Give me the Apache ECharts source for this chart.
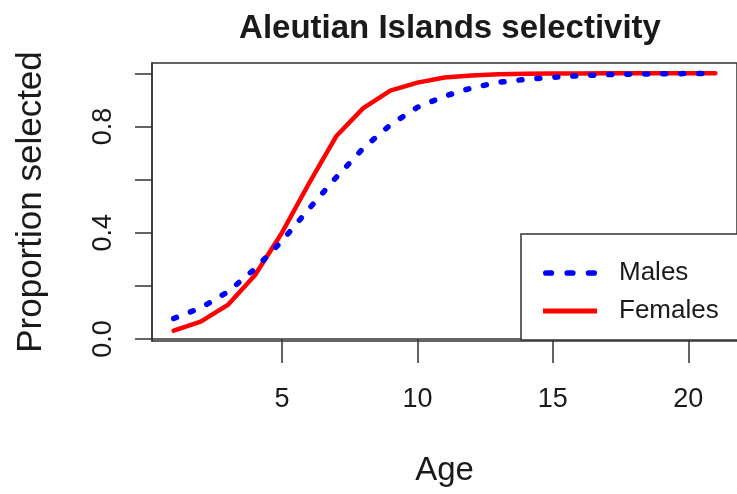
<!DOCTYPE html>
<html>
<head>
<meta charset="utf-8">
<title>Aleutian Islands selectivity</title>
<script src="https://cdn.jsdelivr.net/npm/echarts@6/dist/echarts.min.js"></script>
<style>
  html, body { margin: 0; padding: 0; background: #ffffff; }
  #chart { width: 737px; height: 494px; }
</style>
</head>
<body>
<div id="chart"></div>
<script>
// Selectivity-at-age by sex
const ages = [1, 2, 3, 4, 5, 6, 7, 8, 9, 10, 11, 12, 13, 14, 15, 16, 17, 18, 19, 20, 21];
const males = [0.077, 0.117, 0.177, 0.264, 0.369, 0.490, 0.608, 0.718, 0.806, 0.872, 0.914,
               0.945, 0.966, 0.977, 0.985, 0.991, 0.995, 0.997, 0.998, 0.999, 0.999];
const females = [0.031, 0.065, 0.128, 0.240, 0.400, 0.586, 0.763, 0.869, 0.935, 0.965, 0.984,
                 0.992, 0.996, 0.998, 0.999, 0.999, 1.000, 1.000, 1.000, 1.000, 1.000];

const xTicks = [5, 10, 15, 20];
const yTicks = [0, 0.2, 0.4, 0.6, 0.8, 1.0];
const yTickLabels = [0, 0.4, 0.8];

const seriesNames = ['Males', 'Females'];
const titleText = 'Aleutian Islands selectivity';
const xName = 'Age';
const yName = 'Proportion selected';

// axis ranges padded by 4% of the data span on each side
const xSpan = ages[ages.length - 1] - ages[0];
const xMin = ages[0] - 0.04 * xSpan;
const xMax = ages[ages.length - 1] + 0.04 * xSpan;
const allY = males.concat(females);
const yLo = Math.min.apply(null, allY), yHi = Math.max.apply(null, allY);
const ySpan = yHi - yLo;
const yMin = yLo - 0.04 * ySpan;
const yMax = yHi + 0.04 * ySpan;

const FONT = '"Liberation Sans", Arial, Helvetica, sans-serif';
const INK = '#1a1a1a';
const FRAME = '#333333';

// legend keys: a dotted stroke for males, a solid stroke for females
const dottedKey = 'path://M2,0h5a2,2 0 0 1 0,5h-5a2,2 0 0 1 0,-5z'
  + 'M21,0h5a2,2 0 0 1 0,5h-5a2,2 0 0 1 0,-5z'
  + 'M40,0h5a2,2 0 0 1 0,5h-5a2,2 0 0 1 0,-5z';
const solidKey = 'path://M0,0h54v5h-54z';

const pairs = (vals) => ages.map((a, i) => [a, vals[i]]);

const chart = echarts.init(document.getElementById('chart'), null, { renderer: 'canvas' });

chart.setOption({
  backgroundColor: '#ffffff',
  animation: false,
  textStyle: { fontFamily: FONT, color: INK },
  title: {
    text: titleText,
    left: 445,
    top: 7,
    textAlign: 'center',
    textStyle: { fontFamily: FONT, fontWeight: 'bold', fontSize: 33, color: INK }
  },
  grid: {
    left: 152,
    right: -2,
    top: 63,
    bottom: 153,
    show: true,
    borderColor: FRAME,
    borderWidth: 1.5,
    backgroundColor: 'transparent'
  },
  legend: {
    data: [
      { name: seriesNames[0], icon: dottedKey },
      { name: seriesNames[1], icon: solidKey }
    ],
    orient: 'vertical',
    left: 521,
    top: 234,
    width: 230,
    padding: [26, 60, 16, 22],
    itemGap: 12,
    itemWidth: 54,
    itemHeight: 26,
    borderColor: FRAME,
    borderWidth: 1.5,
    borderRadius: 0,
    backgroundColor: '#ffffff',
    textStyle: { fontFamily: FONT, fontSize: 26, color: INK, padding: [0, 0, 0, 17] }
  },
  xAxis: {
    type: 'value',
    min: xMin,
    max: xMax,
    name: xName,
    nameLocation: 'middle',
    nameGap: 113,
    nameTextStyle: { fontFamily: FONT, fontSize: 33, color: INK },
    axisLine: { show: true, lineStyle: { color: FRAME, width: 1.5 } },
    axisTick: { show: true, customValues: xTicks, length: 24, lineStyle: { color: FRAME, width: 1.5 } },
    axisLabel: {
      customValues: xTicks,
      margin: 45,
      fontFamily: FONT, fontSize: 27, color: INK,
      formatter: (v) => String(v)
    },
    splitLine: { show: false }
  },
  yAxis: {
    type: 'value',
    min: yMin,
    max: yMax,
    name: yName,
    nameLocation: 'middle',
    nameGap: 103,
    nameTextStyle: { fontFamily: FONT, fontSize: 35, color: INK },
    axisLine: { show: true, lineStyle: { color: FRAME, width: 1.5 } },
    axisTick: { show: true, customValues: yTicks, length: 17, lineStyle: { color: FRAME, width: 1.5 } },
    axisLabel: {
      customValues: yTickLabels,
      rotate: 90,
      margin: 35,
      fontFamily: FONT, fontSize: 27, color: INK,
      formatter: (v) => v.toFixed(1)
    },
    splitLine: { show: false }
  },
  series: [
    {
      name: 'Females',
      type: 'line',
      data: pairs(females),
      symbol: 'none',
      z: 2,
      lineStyle: { color: '#ff0000', width: 4.5, cap: 'round', join: 'round' },
      itemStyle: { color: '#ff0000' }
    },
    {
      name: 'Males',
      type: 'line',
      data: pairs(males),
      symbol: 'none',
      z: 3,
      lineStyle: { color: '#0000ff', width: 5.5, type: [3, 15], cap: 'round', join: 'round' },
      itemStyle: { color: '#0000ff' }
    }
  ]
});
</script>
</body>
</html>
